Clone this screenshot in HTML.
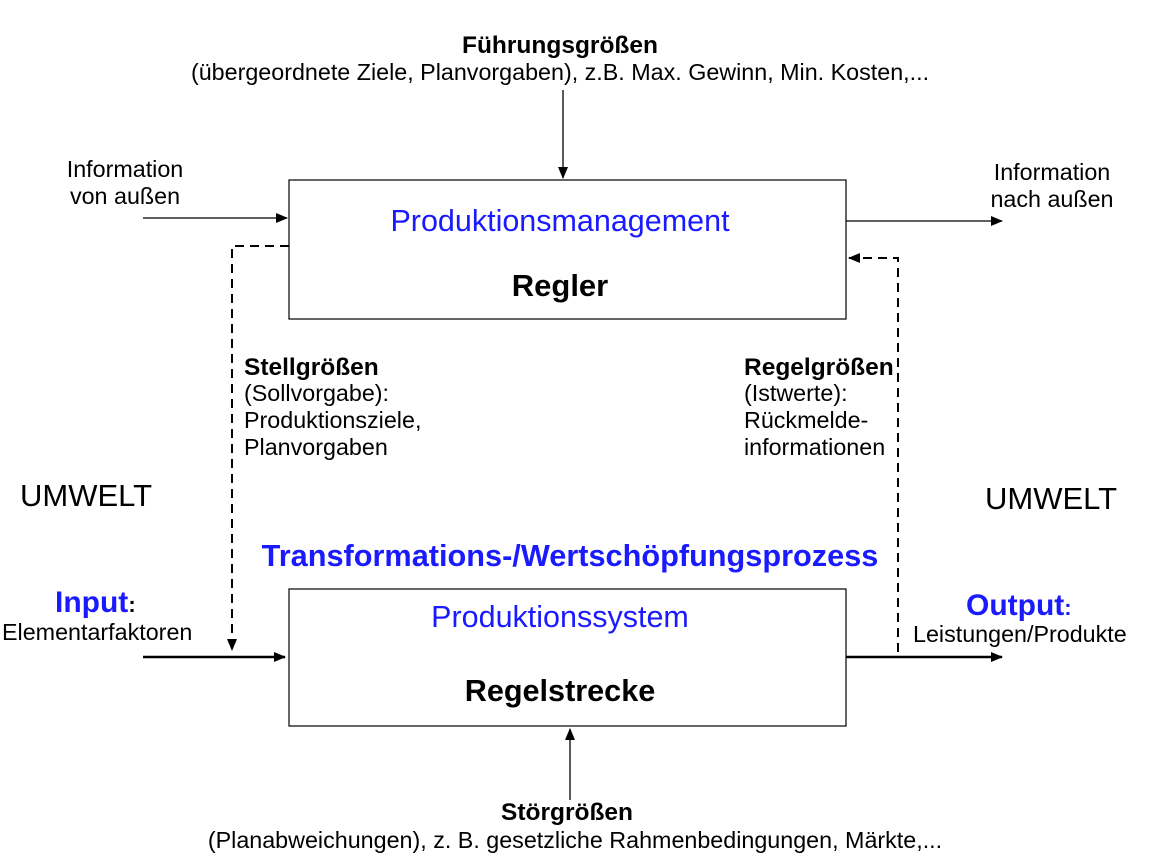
<!DOCTYPE html>
<html><head><meta charset="utf-8"><style>
html,body{margin:0;padding:0;background:#fff;}
svg{display:block;font-family:"Liberation Sans",Arial,sans-serif;}
</style></head><body>
<svg width="1176" height="866" viewBox="0 0 1176 866">
<defs>
<marker id="ah" markerWidth="12" markerHeight="10" refX="11" refY="5" orient="auto" markerUnits="userSpaceOnUse">
<path d="M0,0 L12,5 L0,10 z" fill="#000"/></marker>
</defs>
<g>
<text x="560" y="53" text-anchor="middle" font-size="24.5" font-weight="bold">Führungsgrößen</text>
<text x="560" y="80" text-anchor="middle" font-size="23.3">(übergeordnete Ziele, Planvorgaben), z.B. Max. Gewinn, Min. Kosten,...</text>
</g>
<line x1="563" y1="90" x2="563" y2="178" stroke="#000" stroke-width="1.3" marker-end="url(#ah)"/>
<g font-size="23.3" text-anchor="middle">
<text x="125" y="177">Information</text><text x="125" y="204">von außen</text></g>
<line x1="143" y1="218" x2="287" y2="218" stroke="#000" stroke-width="1.3" marker-end="url(#ah)"/>
<g font-size="23.3" text-anchor="middle">
<text x="1052" y="180">Information</text><text x="1052" y="207">nach außen</text></g>
<line x1="846" y1="221" x2="1002" y2="221" stroke="#000" stroke-width="1.3" marker-end="url(#ah)"/>
<rect x="289" y="180" width="557" height="139" fill="#fff" stroke="#000" stroke-width="1.2"/>
<text x="560" y="231" text-anchor="middle" font-size="30.5" fill="#1a1aff">Produktionsmanagement</text>
<text x="560" y="296" text-anchor="middle" font-size="31" font-weight="bold">Regler</text>
<polyline points="289,246 232,246 232,650" fill="none" stroke="#000" stroke-width="2" stroke-dasharray="9,6" marker-end="url(#ah)"/>
<polyline points="898,652 898,258 849,258" fill="none" stroke="#000" stroke-width="2" stroke-dasharray="9,6" marker-end="url(#ah)"/>
<g font-size="23.3">
<text x="244" y="375" font-weight="bold" font-size="24.5">Stellgrößen</text><text x="244" y="401">(Sollvorgabe):</text>
<text x="244" y="428">Produktionsziele,</text><text x="244" y="455">Planvorgaben</text></g>
<g font-size="23.3">
<text x="744" y="375" font-weight="bold" font-size="24.5">Regelgrößen</text><text x="744" y="401">(Istwerte):</text>
<text x="744" y="428">Rückmelde-</text><text x="744" y="455">informationen</text></g>
<text x="20" y="506" font-size="31">UMWELT</text>
<text x="985" y="509" font-size="31">UMWELT</text>
<text x="570" y="566" text-anchor="middle" font-size="30.7" font-weight="bold" fill="#1a1aff">Transformations-/Wertschöpfungsprozess</text>
<text x="55" y="612" font-size="30" font-weight="bold" fill="#1a1aff">Input<tspan fill="#000" font-size="22">:</tspan></text>
<text x="2" y="640" font-size="23.3">Elementarfaktoren</text>
<line x1="143" y1="657" x2="285" y2="657" stroke="#000" stroke-width="2.5" marker-end="url(#ah)"/>
<text x="966" y="615" font-size="30" font-weight="bold" fill="#1a1aff">Output<tspan font-size="22">:</tspan></text>
<text x="913" y="642" font-size="23.3">Leistungen/Produkte</text>
<line x1="846" y1="657" x2="1002" y2="657" stroke="#000" stroke-width="2.5" marker-end="url(#ah)"/>
<rect x="289" y="589" width="557" height="137" fill="#fff" stroke="#000" stroke-width="1.2"/>
<text x="560" y="627" text-anchor="middle" font-size="30.5" fill="#1a1aff">Produktionssystem</text>
<text x="560" y="701" text-anchor="middle" font-size="30.6" font-weight="bold">Regelstrecke</text>
<line x1="570" y1="800" x2="570" y2="729" stroke="#000" stroke-width="1.3" marker-end="url(#ah)"/>
<g text-anchor="middle" font-size="23.3">
<text x="567" y="820" font-weight="bold" font-size="24.5">Störgrößen</text>
<text x="575" y="848">(Planabweichungen), z. B. gesetzliche Rahmenbedingungen, Märkte,...</text></g>
</svg>
</body></html>
